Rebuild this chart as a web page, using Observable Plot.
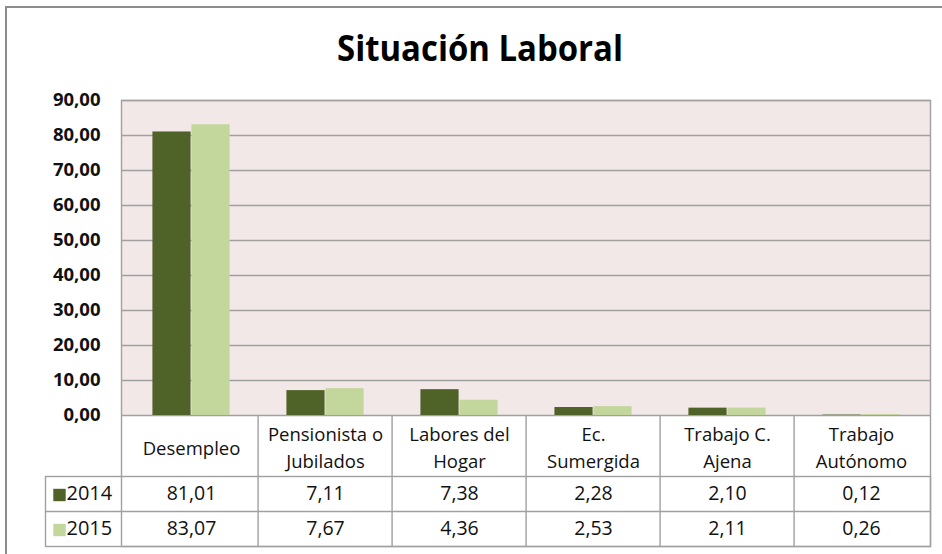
<!DOCTYPE html>
<html>
<head>
<meta charset="utf-8">
<script src="https://cdn.jsdelivr.net/npm/d3@7"></script>
<script src="https://cdn.jsdelivr.net/npm/@observablehq/plot@0.6"></script>
<style>
html,body{margin:0;padding:0;background:#fff;}
#wrap{position:relative;width:942px;height:554px;overflow:hidden;font-family:"Open Sans",sans-serif;}
#border{position:absolute;left:5px;top:6px;width:1000px;height:700px;border-left:2px solid #8c8c8c;border-top:2px solid #8c8c8c;}
#title{position:absolute;left:0;top:0;width:942px;height:85px;margin:0;}
#title span{position:absolute;left:480px;top:30px;line-height:35px;transform:translateX(-50%) scaleX(0.94);font-weight:700;font-size:35px;white-space:nowrap;color:#000;font-family:"Open Sans",sans-serif;}
#chart{position:absolute;left:0;top:85px;}
</style>
</head>
<body>
<div id="wrap">
  <div id="border"></div>
  <div id="title"><span>Situación Laboral</span></div>
  <div id="chart"></div>
</div>
<script>
const categories = ["Desempleo", "Pensionista o\nJubilados", "Labores del\nHogar", "Ec.\nSumergida", "Trabajo C.\nAjena", "Trabajo\nAutónomo"];
const years = ["2014", "2015"];
const values2014 = [81.01, 7.11, 7.38, 2.28, 2.10, 0.12];
const values2015 = [83.07, 7.67, 4.36, 2.53, 2.11, 0.26];
const yTicks = [0, 10, 20, 30, 40, 50, 60, 70, 80, 90];
const colors = ["#4f6228", "#c3d69b"];

const series = [values2014, values2015];
const fmt = v => d3.format(".2f")(v).replace(".", ",");

const W = 942, H = 469, mL = 121, mR = 12, mT = 15, mB = 139;
const plotH = H - mT - mB;
const bw = (W - mL - mR) / categories.length;
const barW = 39;
const padOuter = (bw - years.length * barW) / 2;
const headH = 61, rowH = 35, tableLeft = 76;
const lineCol = "#a0a0a0";

const marks = [
  Plot.frame({fill: "#f2e8e8", stroke: "none"}),
  Plot.ruleY(yTicks, {stroke: lineCol, strokeWidth: 1.4}),
  ...years.map((yr, i) => Plot.barY(categories, {
    x: d => d,
    y: (d, j) => series[i][j],
    fill: () => yr,
    insetLeft: padOuter + i * barW,
    insetRight: bw - padOuter - (i + 1) * barW
  })),
  // outer frame of plot + header region
  Plot.frame({stroke: lineCol, strokeWidth: 1.4, insetBottom: -(headH + 2 * rowH)}),
  // inner column separators in the data table
  Plot.ruleX(categories.slice(1), {x: d => d, dx: -bw / 2, insetTop: plotH, insetBottom: -(headH + 2 * rowH), stroke: lineCol, strokeWidth: 1.4}),
  // rows box
  Plot.frame({stroke: lineCol, strokeWidth: 1.4, insetTop: plotH + headH, insetBottom: -(headH + 2 * rowH), insetLeft: -tableLeft}),
  Plot.ruleY([0], {dy: headH + rowH, insetLeft: -tableLeft, stroke: lineCol, strokeWidth: 1.4}),
  // header labels
  Plot.text(categories, {x: d => d, text: d => d, frameAnchor: "bottom", lineAnchor: "middle", dy: headH / 2, lineHeight: 1.45, fontSize: 18.5, fill: "#111"}),
  // rows
  ...years.map((yr, i) => Plot.text(categories, {
    x: d => d,
    text: (d, j) => fmt(series[i][j]),
    frameAnchor: "bottom",
    lineAnchor: "middle",
    dy: headH + rowH * i + rowH / 2,
    fontSize: 19.5,
    fill: "#111"
  })),
  ...years.map((yr, i) => Plot.dot([yr], {
    frameAnchor: "bottom-left",
    dx: -62,
    dy: headH + rowH * i + rowH / 2 + 1,
    symbol: "square",
    r: 7,
    fill: d => d,
    stroke: "none"
  })),
  ...years.map((yr, i) => Plot.text([yr], {
    frameAnchor: "bottom-left",
    lineAnchor: "middle",
    dx: -55,
    dy: headH + rowH * i + rowH / 2,
    textAnchor: "start",
    text: d => d,
    fontSize: 20,
    fill: "#111"
  })),
  Plot.axisY(yTicks, {tickSize: 0, tickPadding: 21, tickFormat: fmt, fontSize: 18.5, fontWeight: "bold", fill: "#111"})
];

const chart = Plot.plot({
  width: W,
  height: H,
  marginLeft: mL,
  marginRight: mR,
  marginTop: mT,
  marginBottom: mB,
  style: {fontFamily: "'Open Sans', sans-serif", background: "transparent", overflow: "visible"},
  x: {domain: categories, padding: 0, axis: null},
  y: {domain: [0, 90], axis: null},
  color: {domain: years, range: colors},
  marks
});
document.getElementById("chart").appendChild(chart);
</script>
</body>
</html>
